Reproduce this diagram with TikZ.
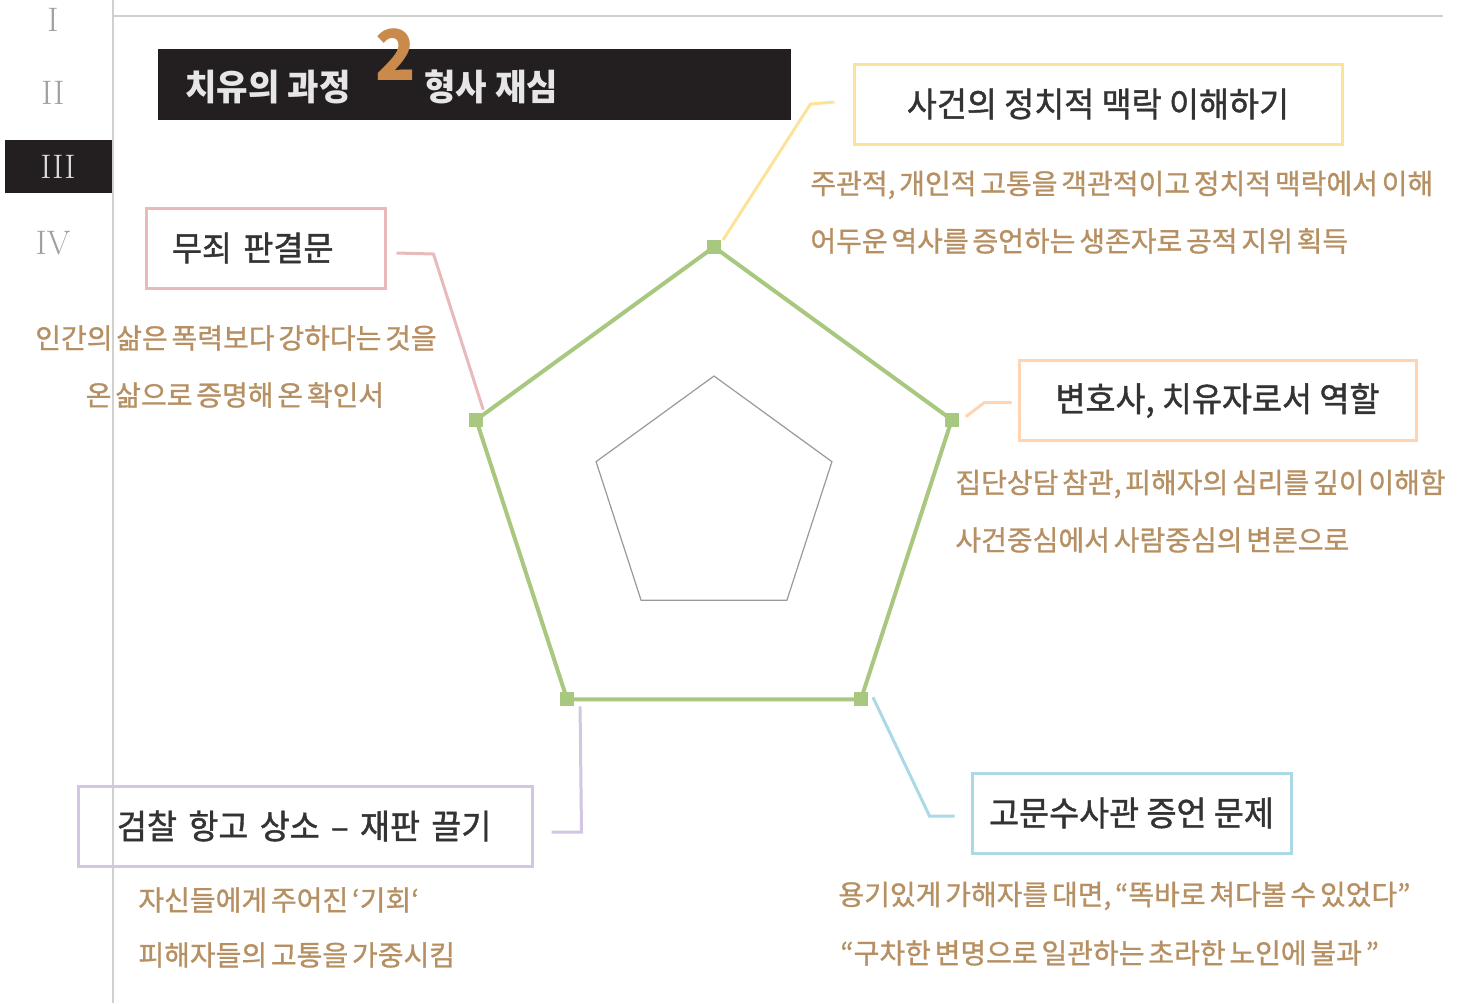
\documentclass[tikz,border=0pt]{standalone}
\usepackage{fontspec}
\usetikzlibrary{shapes.geometric}
\newfontfamily\krbox[FakeStretch=0.96,FakeBold=1.2]{Noto Sans CJK KR}
\newfontfamily\krdesc[FakeStretch=1.0,WordSpace=0.6,FakeBold=1]{Noto Sans CJK KR}
\newfontfamily\krhead[FakeStretch=0.95]{Noto Sans CJK KR}
\definecolor{barblack}{HTML}{231F20}
\definecolor{rulegray}{HTML}{D0D0D0}
\definecolor{numgray}{HTML}{A0A0A0}
\definecolor{numlight}{HTML}{DDDDDD}
\definecolor{headwhite}{HTML}{E6E6E6}
\definecolor{numorange}{HTML}{C98A4C}
\definecolor{txtdark}{HTML}{333333}
\definecolor{tan}{HTML}{B69063}
\definecolor{pgreen}{HTML}{A8C77F}
\definecolor{cyellow}{HTML}{FCE39A}
\definecolor{cpink}{HTML}{E9BABA}
\definecolor{cpeach}{HTML}{FDD4B4}
\definecolor{cblue}{HTML}{ABD9E6}
\definecolor{cpurple}{HTML}{D2C6E2}

\begin{document}
\begin{tikzpicture}[x=0.5pt,y=-0.5pt,
    rule/.style={rulegray, line width=0.6pt},
    numeral/.style={font=\fontsize{17}{17}\selectfont, text=numgray, inner sep=0pt},
    head/.style={font=\krhead\bfseries\fontsize{18}{18}\selectfont, text=headwhite, inner sep=0pt},
    box/.style={draw, line width=1.5pt, minimum height=40pt, inner sep=0pt,
        font=\krbox\fontsize{17}{17}\selectfont, text=txtdark},
    desc/.style={inner sep=0pt, text=tan, font=\krdesc\fontsize{14}{14}\selectfont},
    link/.style={line width=1.5pt},
    vsq/.style={fill=pgreen, minimum size=7pt, inner sep=0pt},
    pent/.style={regular polygon, regular polygon sides=5, inner sep=0pt, outer sep=0pt}]
    \useasboundingbox (0,0) rectangle (1463,1003);

    % side bar
    \draw[rule] (113,0) -- (113,1003);
    \draw[rule] (113,16) -- (1443,16);
    \fill[barblack] (5,140) rectangle (112,193);
    \node[numeral] (n1) at (53,20) {I};
    \node[numeral] (n2) at (53,93) {II};
    \node[numeral, text=numlight] (n3) at (58,167) {III};
    \node[numeral] (n4) at (53,243) {IV};

    % title
    \node[fill=barblack, minimum width=316.5pt, minimum height=35.5pt, inner sep=0pt,
        anchor=north west] (bar) at (158,49) {};
    \node[head, anchor=west] (head1) at (185,87) {치유의 과정};
    \node[font=\krhead\bfseries\fontsize{35}{35}\selectfont, text=numorange, inner sep=0pt] (num) at (396,55) {2};
    \node[head, anchor=west] (head2) at (424,87) {형사 재심};

    % pentagons
    \node[pent, draw=pgreen, line width=2pt, minimum size=250pt] (outer) at (714,497) {};
    \node[pent, draw=gray!80, line width=0.6pt, minimum size=124pt] (inner) at (714,500) {};
    \node[vsq] (vtop) at (outer.corner 1) {};
    \node[vsq] (vleft) at (outer.corner 2) {};
    \node[vsq] (vbl) at (outer.corner 3) {};
    \node[vsq] (vbr) at (outer.corner 4) {};
    \node[vsq] (vright) at (outer.corner 5) {};

    % boxes
    \node[box, draw=cyellow, minimum width=244pt] (ybox) at (1098,104) {사건의 정치적 맥락 이해하기};
    \node[box, draw=cpink, minimum width=119.5pt, text width=93.5pt, inner xsep=13pt, align=left] (pbox) at (265.5,248) {무죄 판결문};
    \node[box, draw=cpeach, minimum width=198.5pt] (chbox) at (1217.5,400.5) {변호사, 치유자로서 역할};
    \node[box, draw=cblue, minimum width=159.5pt] (bbox) at (1131.5,813) {고문수사관 증언 문제};
    \node[box, draw=cpurple, minimum width=227pt, text width=188pt, inner xsep=19.5pt, align=left] (ubox) at (305,826) {검찰 항고 상소 – 재판 끌기};

    % texts
    \node[desc, anchor=west] (yd1) at (810,185) {주관적, 개인적 고통을 객관적이고 정치적 맥락에서 이해};
    \node[desc, anchor=west] (yd2) at (810,241) {어두운 역사를 증언하는 생존자로 공적 지위 획득};
    \node[desc] (pd1) at (236,338) {인간의 삶은 폭력보다 강하다는 것을};
    \node[desc] (pd2) at (235,395) {온 삶으로 증명해 온 확인서};
    \node[desc, anchor=west] (chd1) at (955,484) {집단상담 참관, 피해자의 심리를 깊이 이해함};
    \node[desc, anchor=west] (chd2) at (955,540) {사건중심에서 사람중심의 변론으로};
    \node[desc, anchor=west] (bd1) at (838,896) {용기있게 가해자를 대면, “똑바로 쳐다볼 수 있었다”};
    \node[desc, anchor=west] (bd2) at (840,953) {“구차한 변명으로 일관하는 초라한 노인에 불과 ”};
    \node[desc, anchor=west] (ud1) at (138,900) {자신들에게 주어진 ‘기회‘};
    \node[desc, anchor=west] (ud2) at (138,955) {피해자들의 고통을 가중시킴};

    % links
    \draw[link, cyellow] ([shift={(-18,-2)}]ybox.west) -- ++(-24,2) -- ([shift={(9,-7)}]vtop.center);
    \draw[link, cpink] ([shift={(10,5)}]pbox.east) -- ++(37,1) -- ([shift={(7,-10)}]vleft.center);
    \draw[link, cpeach] ([shift={(-6,2)}]chbox.west) -- ++(-27,0) -- ([shift={(14,-3)}]vright.center);
    \draw[link, cblue] ([shift={(-16,3)}]bbox.west) -- ++(-25,0) -- ([shift={(12,-2)}]vbr.center);
    \draw[link, cpurple] ([shift={(18,6)}]ubox.east) -- ++(30,0) -- ([shift={(13,7)}]vbl.center);
\end{tikzpicture}
\end{document}
